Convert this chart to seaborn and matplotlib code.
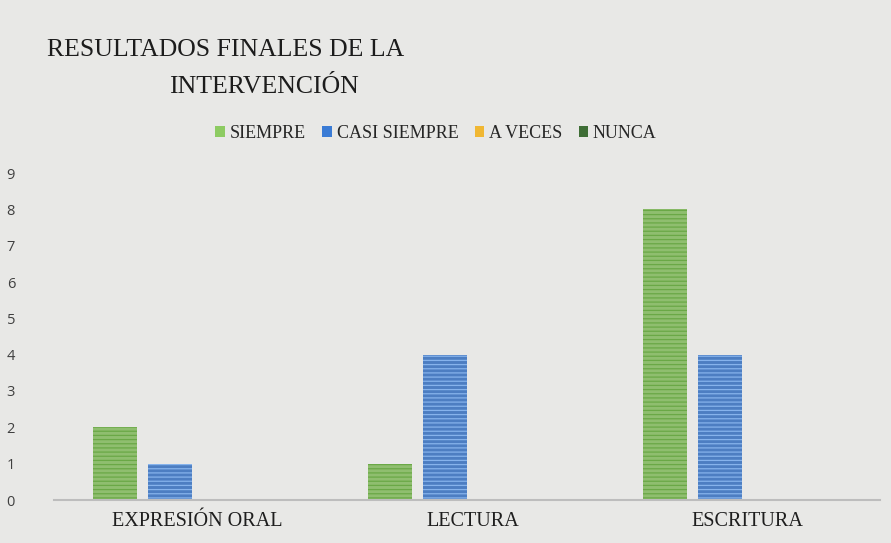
import matplotlib
matplotlib.use("Agg")
import matplotlib.pyplot as plt
import matplotlib.patches as mpatches
import seaborn as sns
import pandas as pd

# data
categorias = ["EXPRESIÓN ORAL", "LECTURA", "ESCRITURA"]
series = ["SIEMPRE", "CASI SIEMPRE", "A VECES", "NUNCA"]
siempre = [2, 1, 8]
casi_siempre = [1, 4, 4]
a_veces = [0, 0, 0]
nunca = [0, 0, 0]

colores = ["#8dcb62", "#3a7bd5", "#f0b733", "#3f6e36"]
rayas = ["#6aa846", "#86b3ec", "#f0b733", "#3f6e36"]

rows = []
for serie, vals in zip(series, [siempre, casi_siempre, a_veces, nunca]):
    for cat, v in zip(categorias, vals):
        rows.append({"categoria": cat, "serie": serie, "valor": v})
df = pd.DataFrame(rows)

sns.set_style("white")
plt.rcParams["hatch.linewidth"] = 0.9
bg = "#e8e8e6"

fig = plt.figure(figsize=(8.91, 5.43), dpi=100, facecolor=bg)
ax = fig.add_axes([54 / 891, 1 - 500 / 543, (880 - 54) / 891, (500 - 173) / 543])
ax.set_facecolor(bg)

sns.barplot(data=df, x="categoria", y="valor", hue="serie", order=categorias,
            hue_order=series, palette=colores, width=0.8, gap=0.2,
            legend=False, ax=ax)

# horizontal stripes like the scanned fill pattern
for i, cont in enumerate(ax.containers):
    for p in cont:
        p.set_hatch("----")
        p.set_edgecolor(rayas[i])
        p.set_linewidth(0)

ax.set_ylim(0, 9)
ax.set_xlim(-0.52, 2.48)
ax.set_yticks(range(10))
ax.set_xlabel("")
ax.set_ylabel("")
sns.despine(ax=ax, left=True, top=True, right=True)
ax.spines["bottom"].set_color("#bdbdbd")
ax.spines["bottom"].set_linewidth(1.5)
ax.tick_params(axis="both", length=0)
ax.tick_params(axis="y", pad=28, labelsize=10.5, labelcolor="#404040")
ax.tick_params(axis="x", pad=9)
for t in ax.get_yticklabels():
    t.set_fontfamily("Open Sans")
for t in ax.get_xticklabels():
    t.set_fontfamily("Liberation Serif")
    t.set_fontsize(14.5)
    t.set_color("#1e1e1e")

# title (two lines as in the original)
fig.text(226 / 891, 1 - 50 / 543, "RESULTADOS FINALES DE LA", ha="center", va="center",
         fontfamily="Liberation Serif", fontsize=18.5, color="#1c1c1c")
fig.text(264 / 891, 1 - 87 / 543, "INTERVENCIÓN", ha="center", va="center",
         fontfamily="Liberation Serif", fontsize=18.5, color="#1c1c1c")

handles = [mpatches.Patch(facecolor=c, edgecolor="none", label=s) for c, s in zip(colores, series)]
fig.legend(handles=handles, loc="center", bbox_to_anchor=(436 / 891, 1 - 133 / 543), ncol=4,
           frameon=False, handlelength=0.55, handleheight=0.55, handletextpad=0.25,
           columnspacing=0.9, prop={"family": "Liberation Serif", "size": 13})

fig.savefig("out.png", dpi=100, facecolor=bg)
